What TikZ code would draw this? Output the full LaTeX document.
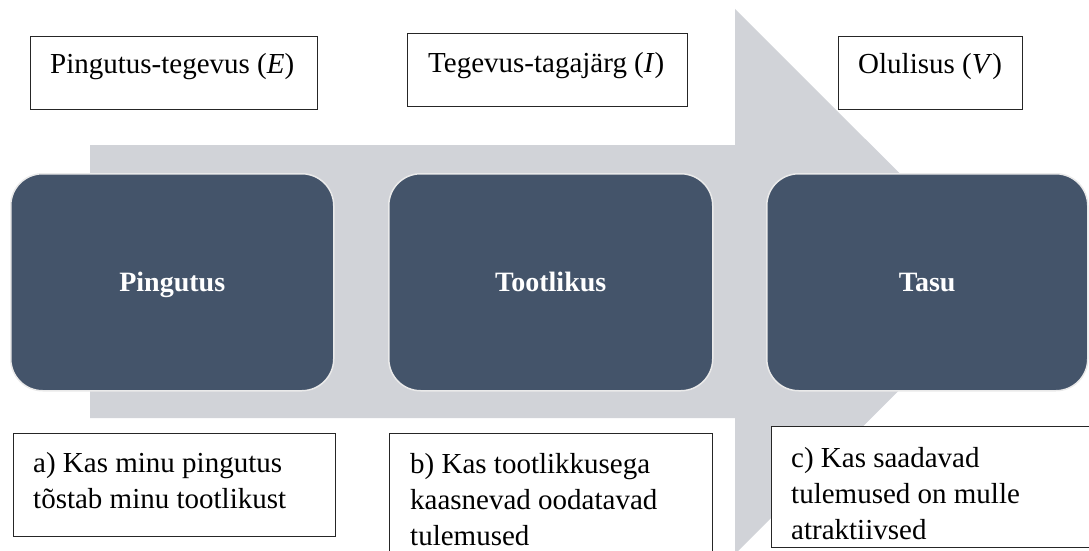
\documentclass[tikz,border=0pt]{standalone}
\usepackage{fontspec}
\setmainfont{Liberation Serif}
\definecolor{slate}{HTML}{44546A}
\definecolor{arrowgray}{HTML}{D1D3D8}
\definecolor{rimgray}{HTML}{EAEAEA}
\begin{document}
\begin{tikzpicture}[x=1pt,y=-1pt,
  stage/.style={fill=slate, draw=rimgray, line width=1.5pt, rounded corners=32pt,
    anchor=north west, inner sep=0pt, minimum height=217pt,
    text height=18.5pt, text depth=0pt,
    text=white, font=\fontsize{28}{34}\selectfont\bfseries},
  infobox/.style={draw=black!85, fill=white, line width=0.9pt, anchor=north west,
    inner sep=0pt},
  % multi-line text: the base anchor sits on the last line
  infotext/.style={anchor=base west, inner sep=0pt, align=left,
    font=\fontsize{29}{36}\selectfont}]
\clip (0,0) rectangle (1089,551);
% broad background arrow
\fill[arrowgray] (90,145) -- (735,145) -- (735,9) -- (1008,281.5)
  -- (735,554) -- (735,418) -- (90,418) -- cycle;
% the three stages
\node[stage, minimum width=323pt] (pingutus) at (10,173) {Pingutus};
\node[stage, minimum width=324pt] (tootlikus) at (388,173) {Tootlikus};
\node[stage, minimum width=321pt] (tasu) at (766,173) {Tasu};
% links above the arrow
\node[infobox, minimum width=287pt, minimum height=73pt] (boxE) at (30,36) {};
\node[infotext] (txtE) at (50,74) {Pingutus-tegevus (\textit{E})};
\node[infobox, minimum width=280pt, minimum height=73pt] (boxI) at (407,33) {};
\node[infotext] (txtI) at (428,72) {Tegevus-tagajärg (\textit{I})};
\node[infobox, minimum width=184pt, minimum height=73pt] (boxV) at (838,36) {};
\node[infotext] (txtV) at (858,74) {Olulisus (\textit{V})};
% questions below the arrow
\node[infobox, minimum width=322pt, minimum height=103pt] (boxA) at (13,433) {};
\node[infotext] (txtA) at (33,508) {a) Kas minu pingutus\\tõstab minu tootlikust};
\node[infobox, minimum width=323pt, minimum height=140pt] (boxB) at (389,433) {};
\node[infotext] (txtB) at (410,545) {b) Kas tootlikkusega\\kaasnevad oodatavad\\tulemused};
\node[infobox, minimum width=320pt, minimum height=121pt] (boxC) at (771,426) {};
\node[infotext] (txtC) at (791,539) {c) Kas saadavad\\tulemused on mulle\\atraktiivsed};
\end{tikzpicture}
\end{document}
